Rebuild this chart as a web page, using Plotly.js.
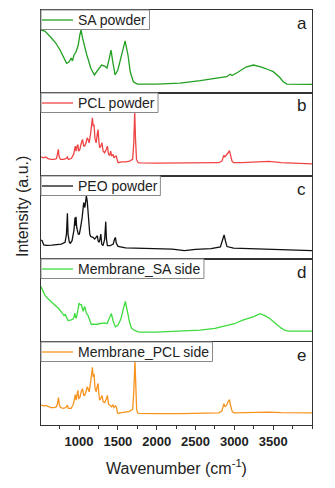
<!DOCTYPE html>
<html>
<head>
<meta charset="utf-8">
<script src="https://cdn.plot.ly/plotly-3.0.1.min.js"></script>
<style>html,body{margin:0;padding:0;background:#fff;}#chart{width:335px;height:488px;}</style>
</head>
<body>
<div id="chart"></div>
<script>
// ---- data (wavenumber, relative intensity) ----
const seriesNames = ["SA powder", "PCL powder", "PEO powder", "Membrane_SA side", "Membrane_PCL side"];
const panelLetters = ["a", "b", "c", "d", "e"];
const seriesColors = ["#22a022", "#f04545", "#111111", "#3ddc3d", "#f7931e"];

const saWn = [510,560,630,700,755,800,840,870,900,915,935,960,990,1010,1026,1045,1077,1100,1120,1150,1197,1240,1290,1330,1360,1385,1412,1435,1464,1500,1550,1593,1630,1660,1700,1750,2000,2300,2560,2800,2900,2946,2970,3050,3150,3246,3350,3450,3500,3580,3630,3676,3800,4000];
const saVal = [75.9,74.7,67.8,60.2,51.8,43.4,35.8,37.3,42.2,38.6,45.8,49.4,57.8,69.9,75.9,66.3,51.8,45.8,39.8,30.1,21.7,27.7,33.7,32.5,30.1,39.8,51.8,37.3,21.7,27.7,45.8,62.7,45.8,25.3,13.6,10.8,10.8,12,14.8,18.1,19.6,22.5,21.1,25.3,31.3,33.7,31.3,27.7,25.7,19.3,13.6,10.8,10.5,10.5];

const pclWn = [510,540,570,600,640,680,710,725,733,742,760,800,830,850,862,900,930,952,962,972,985,995,1010,1030,1045,1060,1072,1090,1105,1116,1130,1150,1165,1172,1182,1193,1205,1220,1237,1245,1255,1265,1280,1296,1310,1330,1350,1365,1380,1395,1408,1420,1438,1450,1470,1480,1495,1503,1550,1600,1650,1690,1705,1717,1727,1740,1760,1800,2000,2300,2600,2800,2840,2865,2878,2900,2920,2937,2950,2970,2990,3100,3300,3450,3600,3800,4000];
const pclVal = [23,22,23,21,20,20,21,27,32,24,20,20,21,23,20,21,26,36,30,35,38,30,32,40,44,36,36,40,46,44,40,52,68,70,60,62,45,40,52,56,42,34,36,40,30,28,32,36,26,25,30,24,26,22,24,24,18,16,17,17,18,20,40,77,45,20,16,15.7,15.5,15.5,15.6,16,18,25,23,25,28,30.5,25,18,16,16,17,17.5,16,15,14.5];

const peoWn = [510,525,545,580,650,720,772,820,838,850,858,875,888,910,935,948,955,961,970,990,1004,1020,1040,1060,1075,1094,1105,1116,1128,1138,1150,1180,1200,1225,1236,1245,1258,1270,1280,1292,1309,1330,1344,1352,1365,1400,1440,1458,1468,1480,1503,1600,1800,2000,2200,2357,2500,2700,2820,2845,2868,2885,2905,2990,3200,3500,3800,4000];
const peoVal = [23,22,17,16.5,16.7,17,18,20,30,55,30,20,19,22,35,50,40,51,38,30,30,38,50,68,62,76,70,57,40,30,27,26,24,26,28,22,20,24,30,18,16,24,45,25,16,16,18,24,26,19,15.2,13.5,12.7,12.7,12,10,11.5,12.5,14.5,22,29,22,15,13,12.5,12,11,10];

const msaWn = [510,540,558,600,650,687,740,780,807,823,840,858,890,923,935,945,955,965,985,1000,1015,1030,1045,1052,1065,1073,1085,1094,1116,1140,1158,1190,1223,1260,1300,1331,1360,1390,1416,1440,1468,1500,1540,1570,1597,1620,1650,1675,1696,1750,1786,2000,2300,2559,2750,2924,3000,3100,3200,3250,3332,3400,3460,3547,3600,3655,3700,4000];
const msaVal = [66.7,60,56.8,52,48,44.9,40,35,31.8,33,29,25.8,26.5,27.7,30,34.9,30,28.9,38,46.8,45,44.9,40,36.9,41,42.9,38,34.9,31.8,25,21.1,21.5,21.1,22,23,23,22,28,34.2,25,18.2,20,28,40,48.8,38,24,17,15.1,12.5,11.9,12,13,14.3,16.5,20.2,22,26,29,30.5,34.2,31.5,28,21.1,17,13.9,13.1,13.1];

const mpclWn = [510,540,570,600,640,680,710,727,735,745,760,800,830,850,862,900,930,952,962,975,985,995,1010,1030,1045,1060,1072,1090,1105,1116,1130,1150,1165,1172,1182,1193,1205,1220,1237,1245,1255,1265,1280,1296,1310,1330,1350,1365,1380,1395,1408,1420,1438,1450,1470,1480,1495,1503,1550,1600,1650,1690,1705,1720,1730,1742,1760,1800,2000,2300,2600,2800,2840,2865,2878,2900,2920,2937,2950,2970,2990,3100,3300,3450,3600,3800,4000];
const mpclVal = [24,23,23.5,22,21,21,22,28,33,25,21,20,21,24,20,20,26,36.5,30,37,41.7,32,33,41,43.7,36,35.7,40,46,44,40,52,67,69.4,58,61.5,45,40,47.6,50,38,29.8,32,35.7,28,27,31,35.7,25,24,23.8,22,24.6,21,23,22,15,13.9,15,15.5,16.5,19,40,77.4,45,18,14,13.9,13.8,13.8,14,14.6,17,25.8,21.8,24,28,30.6,24,17,14.6,15,15.8,15.5,15,14.6,14.6];

const xTickVals = [1000,1500,2000,2500,3000,3500];
const xTickText = ["1000","1500","2000","2500","3000","3500"];

const allWn = [saWn, pclWn, peoWn, msaWn, mpclWn];
const allVal = [saVal, pclVal, peoVal, msaVal, mpclVal];

// ---- build ----
const FONT = "Liberation Sans, Arial, sans-serif";
const W = 335, H = 488, ML = 41, MR = 23, MT = 10, MB = 63;
const PW = W - ML - MR, PH = H - MT - MB;
const px2x = p => (p - ML) / PW;
const py2y = p => (H - MB - p) / PH;

const cv = document.createElement("canvas").getContext("2d");
cv.font = "14px 'Liberation Sans', Arial, sans-serif";

const n = 5;
const traces = [];
const layout = {
  width: W, height: H,
  margin: {l: ML, r: MR, t: MT, b: MB},
  paper_bgcolor: "#fff", plot_bgcolor: "#fff",
  font: {family: FONT, color: "#222"},
  showlegend: false,
  annotations: [],
  shapes: []
};
for (let i = 0; i < n; i++) {
  const k = i + 1;
  const sfx = k === 1 ? "" : String(k);
  const top = 1 - i * 0.2;
  const bottom = top - 0.2;
  traces.push({
    x: allWn[i], y: allVal[i], type: "scatter", mode: "lines",
    name: seriesNames[i], line: {color: seriesColors[i], width: 1.3},
    xaxis: "x" + sfx, yaxis: "y" + sfx, hoverinfo: "skip"
  });
  const isBottom = (i === n - 1);
  layout["xaxis" + sfx] = {
    anchor: "y" + sfx, domain: [0, 1], range: [510, 4000],
    showline: true, mirror: true, linecolor: "#333", linewidth: 1,
    showgrid: false, zeroline: false,
    tickmode: "array", tickvals: xTickVals, ticktext: xTickText,
    showticklabels: isBottom,
    ticks: isBottom ? "outside" : "", ticklen: 4, tickwidth: 1, tickcolor: "#333",
    minor: isBottom ? {dtick: 250, tick0: 500, ticks: "outside", ticklen: 2.5, tickwidth: 1, tickcolor: "#333"} : undefined,
    tickfont: {family: FONT, size: 13, color: "#222", weight: 700},
    matches: k === 1 ? undefined : "x"
  };
  layout["yaxis" + sfx] = {
    anchor: "x" + sfx, domain: [bottom, top], range: [0, 100],
    showline: true, mirror: true, linecolor: "#333", linewidth: 1,
    showgrid: false, zeroline: false, showticklabels: false, ticks: ""
  };
  // legend box drawn for each panel
  const topPx = MT + PH * 0.2 * i;
  const txtW = cv.measureText(seriesNames[i]).width;
  layout.shapes.push({
    type: "rect", xref: "paper", yref: "paper",
    x0: 0, x1: px2x(78 + txtW + 3), y0: py2y(topPx + 19.5), y1: py2y(topPx),
    line: {color: "#888", width: 1}, fillcolor: "#fff", layer: "above"
  });
  layout.shapes.push({
    type: "line", xref: "paper", yref: "paper",
    x0: px2x(42), x1: px2x(73), y0: py2y(topPx + 10), y1: py2y(topPx + 10),
    line: {color: seriesColors[i], width: 1.3}, layer: "above"
  });
  layout.annotations.push({
    text: seriesNames[i], xref: "paper", yref: "paper",
    x: px2x(76), y: py2y(topPx + 10), xanchor: "left", yanchor: "middle",
    showarrow: false, font: {family: FONT, size: 14, color: "#222"}
  });
  layout.annotations.push({
    text: panelLetters[i], xref: "x" + sfx + " domain", yref: "y" + sfx + " domain",
    x: 0.962, y: 1, yshift: -13, xanchor: "center", yanchor: "middle",
    showarrow: false, font: {family: FONT, size: 17, color: "#222"}
  });
}
layout.annotations.push({
  text: "Intensity (a.u.)", xref: "paper", yref: "paper",
  x: px2x(22), y: py2y(207), xanchor: "center", yanchor: "middle", textangle: -90,
  showarrow: false, font: {family: FONT, size: 16, color: "#222"}
});
layout.annotations.push({
  text: "Wavenumber (cm<sup>-1</sup>)", xref: "paper", yref: "paper",
  x: px2x(176), y: py2y(467), xanchor: "center", yanchor: "middle",
  showarrow: false, font: {family: FONT, size: 16, color: "#222"}
});
Plotly.newPlot("chart", traces, layout, {staticPlot: true, displayModeBar: false});
</script>
</body>
</html>
